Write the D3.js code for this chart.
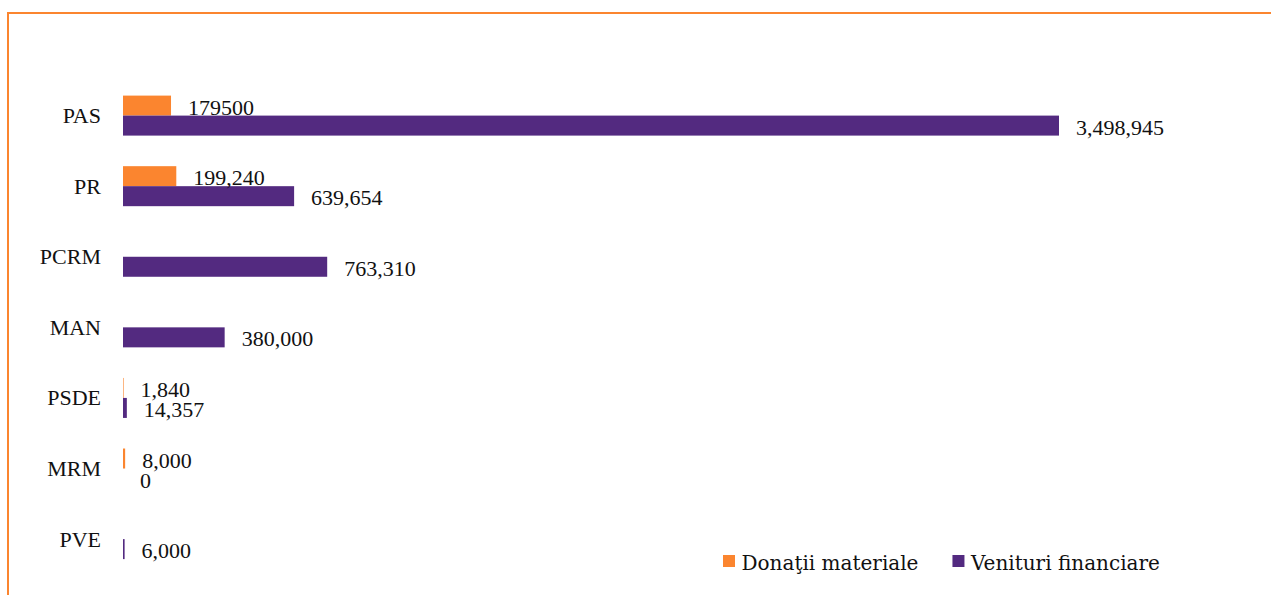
<!DOCTYPE html>
<html>
<head>
<meta charset="utf-8">
<script src="https://cdn.jsdelivr.net/npm/d3@7"></script>
<style>
  body { margin: 0; background: #fff; }
  text { font-family: "Liberation Serif", serif; fill: #111; }
</style>
</head>
<body>
<div class="chart"></div>
<script>
// Data
var parties = ["PAS", "PR", "PCRM", "MAN", "PSDE", "MRM", "PVE"];
var seriesNames = ["Donaţii materiale", "Venituri financiare"];
var donatii = [179500, 199240, null, null, 1840, 8000, null];
var donatiiLabels = ["179500", "199,240", null, null, "1,840", "8,000", null];
var venituri = [3498945, 639654, 763310, 380000, 14357, 0, 6000];
var colors = ["#FB852F", "#532A80"];

var width = 1271, height = 595;

var svg = d3.select(".chart")
  .append("svg")
  .attr("width", width)
  .attr("height", height);

// frame (only top and left edges show)
svg.append("rect")
  .attr("x", 8).attr("y", 13)
  .attr("width", 1400).attr("height", 800)
  .attr("fill", "none")
  .attr("stroke", colors[0])
  .attr("stroke-width", 2);

// scales
var x = d3.scaleLinear()
  .domain([0, 3498945])
  .range([123, 1059]);

var y = d3.scaleBand()
  .domain(parties)
  .range([80.3, 574.4])
  .paddingInner(0.4333)
  .paddingOuter(0.2167);

var ySub = d3.scaleBand()
  .domain(seriesNames)
  .range([0, y.bandwidth()]);

var fmt = d3.format(",");

var rows = parties.map(function(p, i) {
  return [
    { party: p, s: seriesNames[0], v: donatii[i], label: donatiiLabels[i], c: colors[0] },
    { party: p, s: seriesNames[1], v: venituri[i], label: venituri[i] == null ? null : fmt(venituri[i]), c: colors[1] }
  ];
});
var cells = d3.merge(rows).filter(function(d) { return d.v != null; });

// category labels
svg.append("g")
  .selectAll("text")
  .data(parties)
  .enter()
  .append("text")
    .attr("x", 101)
    .attr("y", function(d) { return y(d) + y.bandwidth() / 2 + 7.5; })
    .attr("text-anchor", "end")
    .style("font-size", "22px")
    .text(function(d) { return d; });

// bars
svg.append("g")
  .selectAll("rect")
  .data(cells.filter(function(d) { return d.v > 0; }))
  .enter()
  .append("rect")
    .attr("x", x(0))
    .attr("y", function(d) { return y(d.party) + ySub(d.s); })
    .attr("width", function(d) { return Math.max(0.6, x(d.v) - x(0)); })
    .attr("height", ySub.bandwidth())
    .attr("fill", function(d) { return d.c; });

// value labels
svg.append("g")
  .selectAll("text")
  .data(cells)
  .enter()
  .append("text")
    .attr("x", function(d) { return x(d.v) + 17; })
    .attr("y", function(d) { return y(d.party) + ySub(d.s) + ySub.bandwidth() / 2 + 9; })
    .style("font-size", "22px")
    .text(function(d) { return d.label; });

// legend
var lx = 723;
seriesNames.forEach(function(name, i) {
  svg.append("rect")
    .attr("x", lx).attr("y", 555)
    .attr("width", 12).attr("height", 12)
    .attr("fill", colors[i]);
  var t = svg.append("text")
    .attr("x", lx + 18.5)
    .attr("y", 570)
    .style("font-family", "'DejaVu Serif', serif")
    .style("font-size", "20px")
    .text(name);
  lx += 18.5 + t.node().getComputedTextLength() + 34;
});
</script>
</body>
</html>
